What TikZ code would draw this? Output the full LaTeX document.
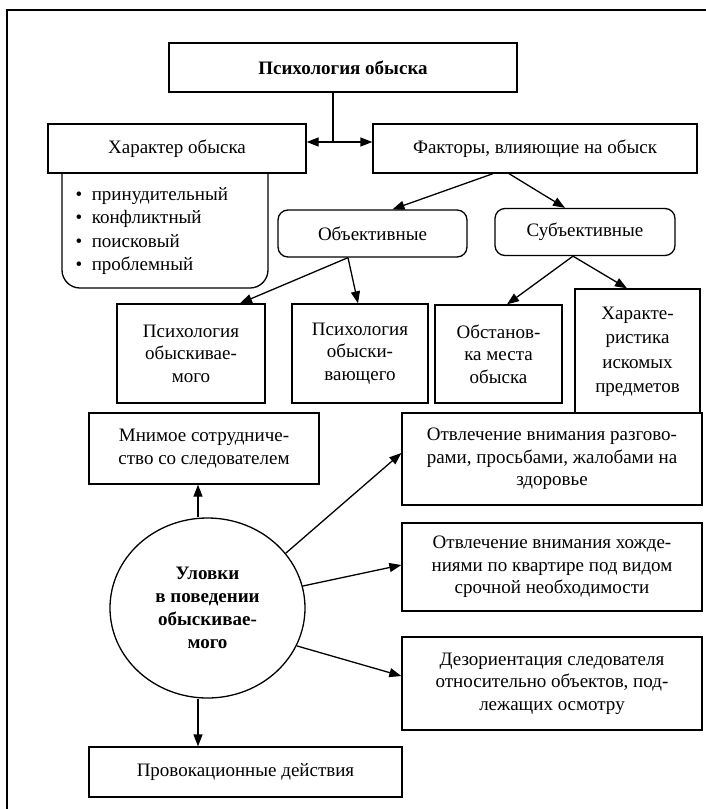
\documentclass[tikz,border=0pt]{standalone}
\usepackage{fontspec}
\setmainfont{Liberation Serif}
\usepackage{tikz}
\usetikzlibrary{arrows.meta, shapes.geometric}

\begin{document}
\begin{tikzpicture}[
    x=1pt, y=-1pt,
    line width=1.3pt,
    every node/.style={font=\fontsize{19}{22.5}\selectfont, align=center, inner sep=2pt},
    box/.style={draw, rectangle, fill=white},
    rbox/.style={draw, rectangle, rounded corners=10pt},
    arr/.style={-{Triangle[length=12pt, width=9pt]}},
    bold/.style={font=\bfseries\fontsize{19}{23}\selectfont}
  ]
  \useasboundingbox (0,0) rectangle (706,809);
  \draw[line width=2pt] (7,809) -- (7,10) -- (706,10);

  \node[draw, rounded corners=18pt, minimum width=206, minimum height=148] (sp) at (165,214) {};
  \node[anchor=west, align=left, font=\fontsize{19}{23.5}\selectfont] (it) at (73,231)
    {\textbullet\enspace принудительный\\ \textbullet\enspace конфликтный\\
     \textbullet\enspace поисковый\\ \textbullet\enspace проблемный};

  \node[box, bold, minimum width=348, minimum height=49] (ps) at (343,67.5) {Психология обыска};
  \node[box, minimum width=258, minimum height=49] (har) at (177,148.5) {Характер обыска};
  \node[box, minimum width=324, minimum height=49] (fak) at (535,148.5) {Факторы, влияющие на обыск};
  \node[rbox, minimum width=189, minimum height=47] (obj) at (372.5,233.5) {Объективные};
  \node[rbox, minimum width=180, minimum height=47] (sub) at (585,232) {Субъективные};
  \node[box, minimum width=148, minimum height=99] (p1) at (191,353.5) {Психология\\обыскивае-\\мого};
  \node[box, minimum width=136, minimum height=99] (p2) at (360,353.5) {Психология\\обыски-\\вающего};
  \node[box, minimum width=127, minimum height=98] (ob) at (498.5,354) {Обстанов-\\ка места\\обыска};
  \node[box, minimum width=125, minimum height=126, font=\fontsize{19}{24.5}\selectfont] (hp) at (637.5,352)
    {Характе-\\ристика\\искомых\\предметов};
  \node[box, minimum width=230, minimum height=71] (mn) at (204,448.5) {Мнимое сотрудниче-\\ство со следователем};
  \node[draw, ellipse, bold, inner sep=0pt, minimum width=195, minimum height=180] (ul) at (207.5,608)
    {Уловки\\в поведении\\обыскивае-\\мого};
  \node[box, minimum width=313, minimum height=50] (pr) at (245.5,772) {Провокационные действия};
  \node[box, minimum width=300, minimum height=92] (o1) at (552,459)
    {Отвлечение внимания разгово-\\рами, просьбами, жалобами на\\здоровье};
  \node[box, minimum width=300, minimum height=88] (o2) at (552,567)
    {Отвлечение внимания хожде-\\ниями по квартире под видом\\срочной необходимости};
  \node[box, minimum width=300, minimum height=93] (dz) at (552,683.5)
    {Дезориентация следователя\\относительно объектов, под-\\лежащих осмотру};

  \coordinate (j) at (333,142);
  \draw (j |- ps.south) -- (j);
  \draw[{Triangle[length=12pt, width=9pt]}-{Triangle[length=12pt, width=9pt]}] (har.east |- j) -- (fak.west |- j);
  \draw[arr] ([xshift=-42pt]fak.south) -- ([xshift=20pt]obj.north);
  \draw[arr] ([xshift=-26pt]fak.south) -- ([xshift=-20pt]sub.north);
  \draw[arr] ([xshift=-24.5pt]obj.south) -- ([xshift=49pt]p1.north);
  \draw[arr] ([xshift=-24.5pt]obj.south) -- ([xshift=-2pt]p2.north);
  \draw[arr] ([xshift=-12pt]sub.south) -- ([xshift=8.5pt]ob.north);
  \draw[arr] ([xshift=-12pt]sub.south) -- ([xshift=-10.5pt]hp.north);
  \draw[arr] ([xshift=-9.5pt]ul.north) -- ([xshift=-9.5pt]ul.north |- mn.south);
  \draw[arr] ([xshift=-9.5pt]ul.south) -- ([xshift=-9.5pt]ul.south |- pr.north);
  \draw[arr] (ul.35) -- ([yshift=6pt]o1.west);
  \draw[arr] (ul.13) -- ([yshift=2pt]o2.west);
  \draw[arr] (ul.-23) -- ([yshift=7.5pt]dz.west);
\end{tikzpicture}
\end{document}
